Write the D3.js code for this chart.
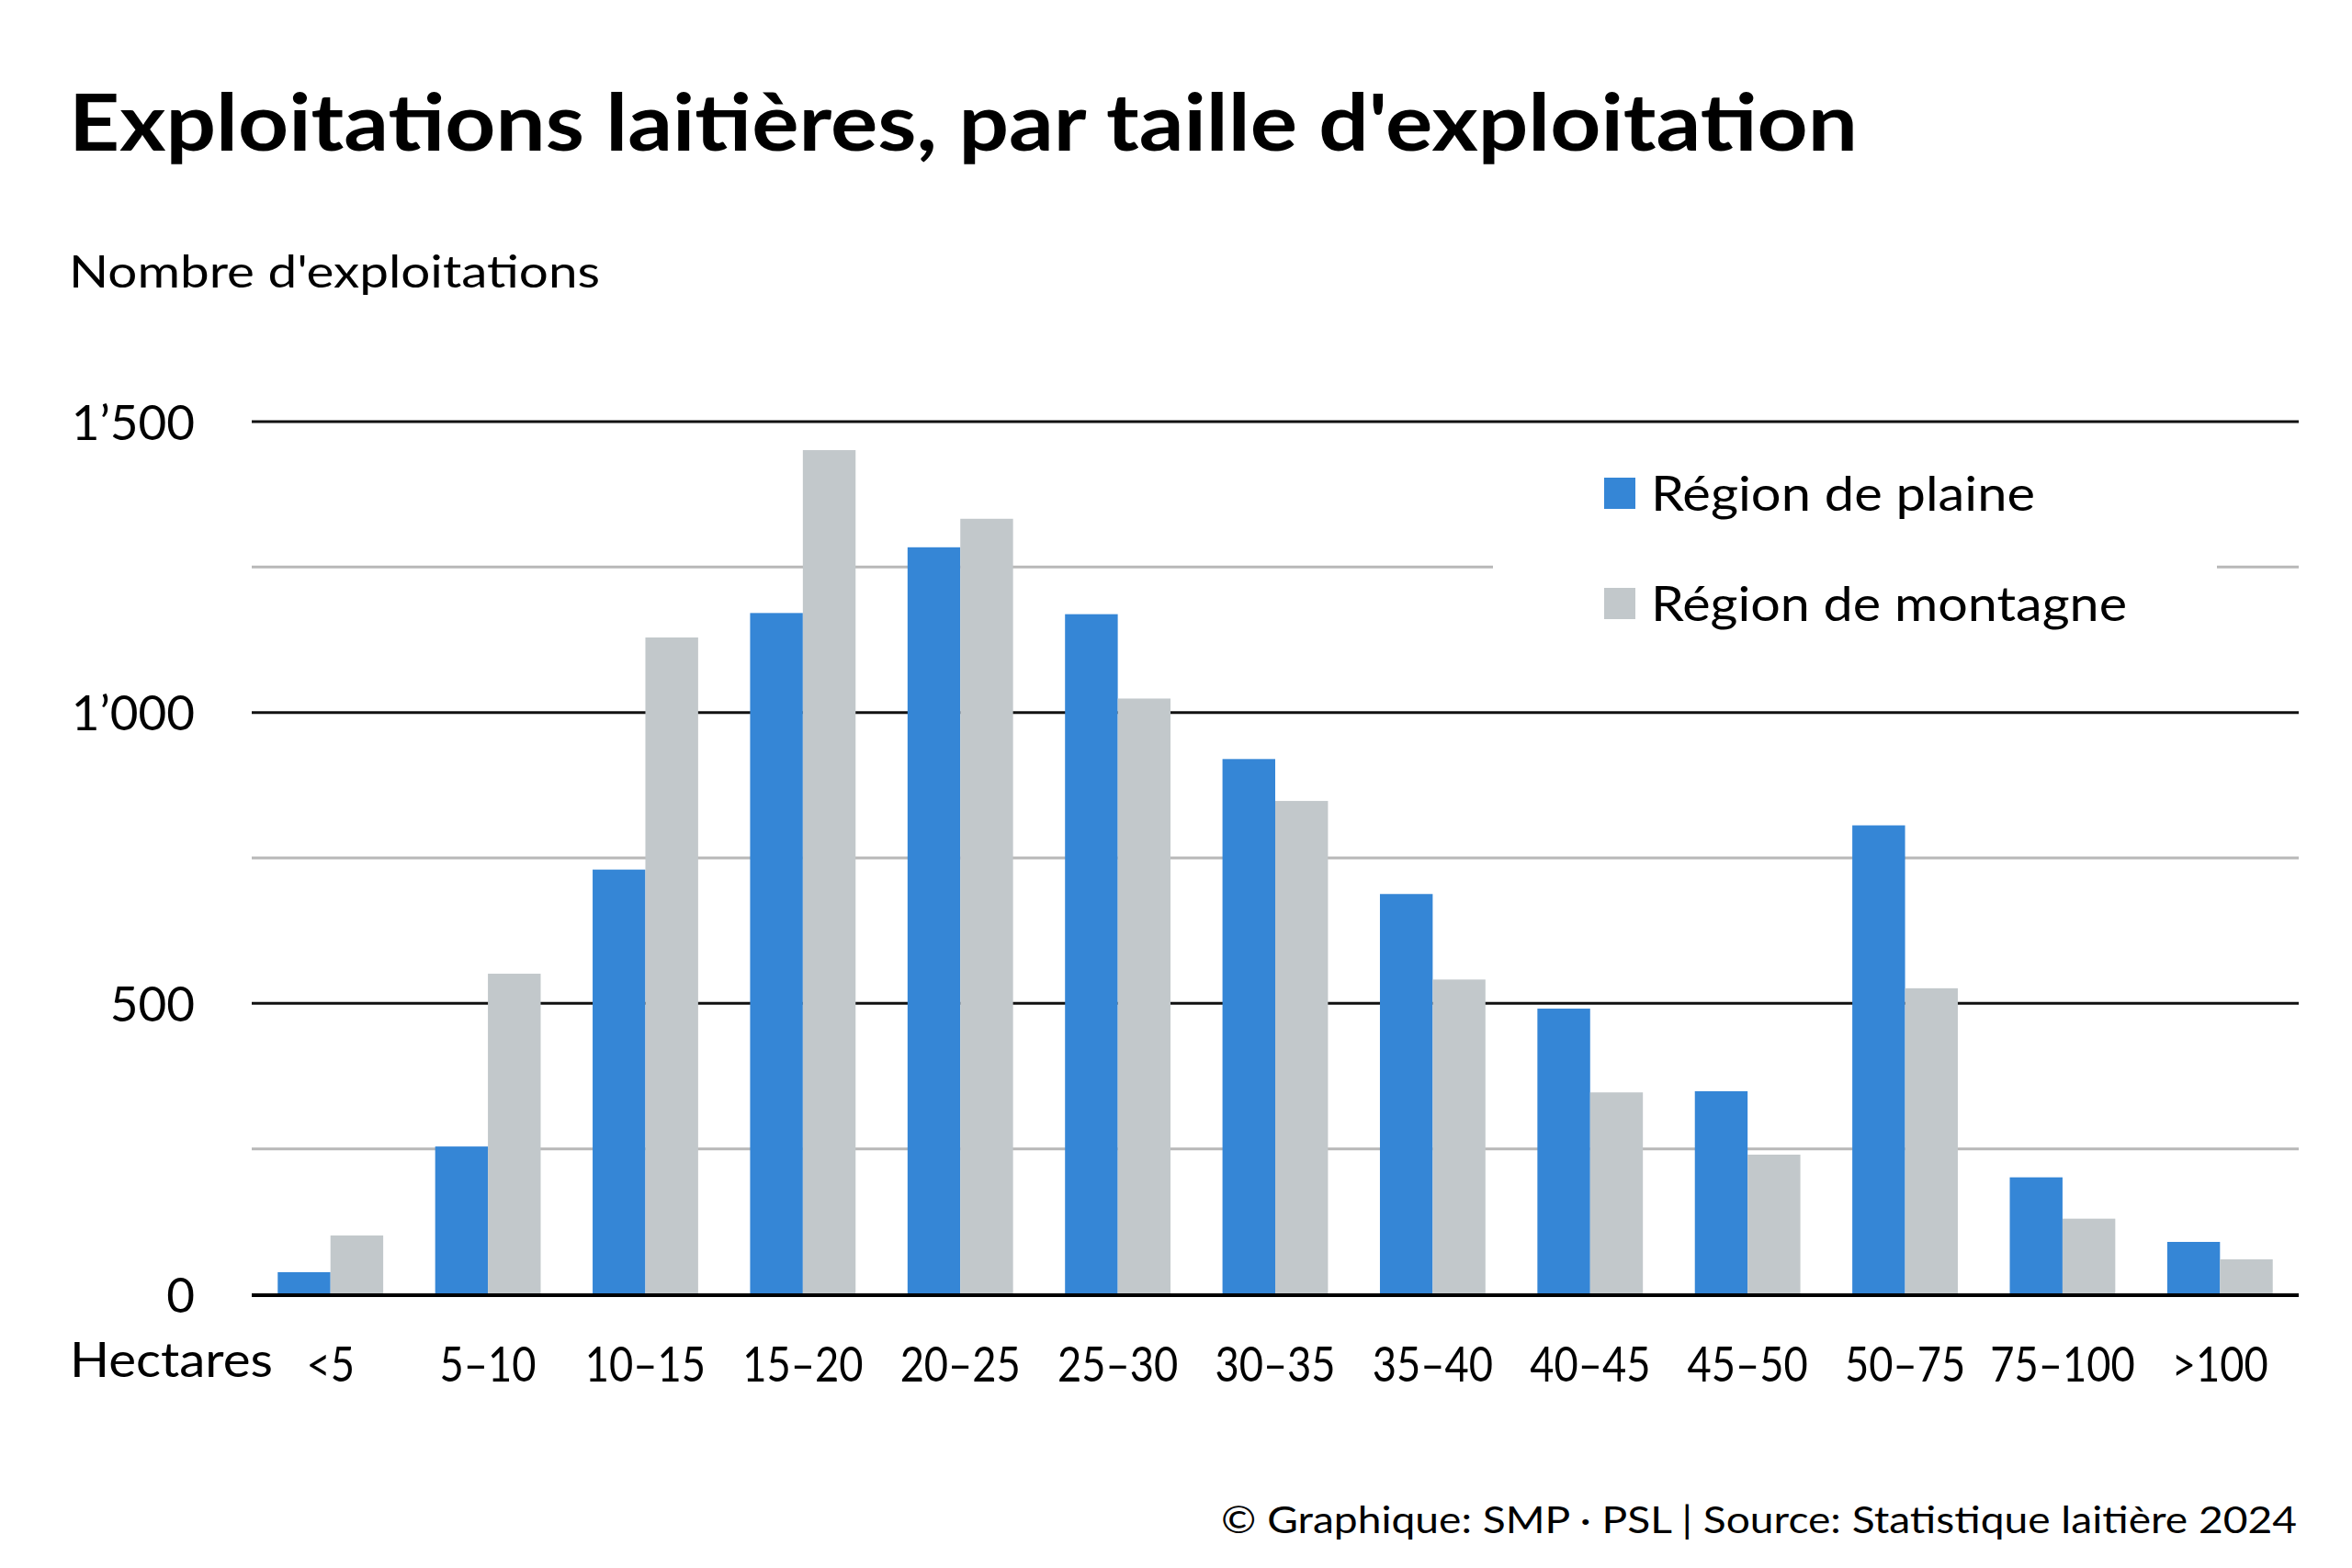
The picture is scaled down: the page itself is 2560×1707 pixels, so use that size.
<!DOCTYPE html>
<html>
<head>
<meta charset="utf-8">
<script src="https://cdn.jsdelivr.net/npm/d3@7"></script>
<style>
  body { margin: 0; background: #fff; }
  text { font-family: Lato, "Open Sans", sans-serif; fill: #000; }
</style>
</head>
<body>
<div id="chart"></div>
<script>
// Data
var categories = ["<5", "5–10", "10–15", "15–20", "20–25", "25–30", "30–35",
                  "35–40", "40–45", "45–50", "50–75", "75–100", ">100"];
var plaine   = [38, 254, 730, 1171, 1284, 1169, 920, 688, 491, 349, 806, 201, 90];
var montagne = [101, 551, 1129, 1451, 1333, 1024, 848, 541, 347, 240, 526, 130, 60];
var seriesNames = ["Région de plaine", "Région de montagne"];
var yTicks  = [0, 250, 500, 750, 1000, 1250, 1500];
var yLabels = [0, 500, 1000, 1500];

var width  = 2560;
var height = 1707;
var m = { top: 459, right: 58, bottom: 298, left: 274 };
var colors = ["#3586d6", "#c2c8cb"];

var rows = categories.map(function(c, i) {
  return { cat: c, values: [plaine[i], montagne[i]] };
});

var svg = d3.select('#chart')
            .append('svg')
            .attr('width', width)
            .attr('height', height);

// shrink or stretch a text to the width it has in the picture
function fit(sel, w) {
  sel.attr('textLength', w).attr('lengthAdjust', 'spacingAndGlyphs');
}

var x0 = d3.scaleBand()
           .domain(categories)
           .range([m.left, width - m.right])
           .paddingInner(0.33)
           .paddingOuter(0.165);

var x1 = d3.scaleBand()
           .domain([0, 1])
           .range([0, x0.bandwidth()]);

var y = d3.scaleLinear()
          .domain([0, 1500])
          .range([height - m.bottom, m.top]);

// Title and subtitle
svg.append('text')
   .attr('x', 75).attr('y', 164)
   .style('font-size', '86px')
   .style('font-weight', 700)
   .text("Exploitations laitières, par taille d'exploitation")
   .call(fit, 1947);

svg.append('text')
   .attr('x', 75).attr('y', 313)
   .style('font-size', '49px')
   .text("Nombre d'exploitations")
   .call(fit, 578);

// Gridlines (behind the bars)
svg.append('g')
   .selectAll('line')
   .data(yTicks.filter(function(d) { return d > 0; }))
   .enter()
   .append('line')
   .attr('x1', m.left).attr('x2', width - m.right)
   .attr('y1', function(d) { return y(d); })
   .attr('y2', function(d) { return y(d); })
   .style('stroke', function(d) { return d % 500 === 0 ? '#111' : '#b8b8b8'; })
   .style('stroke-width', 3);

// Legend background hides the gridline behind it
svg.append('rect')
   .attr('x', 1625).attr('y', 490)
   .attr('width', 2413 - 1625).attr('height', 250)
   .style('fill', '#fff');

// Bars
var groups = svg.append('g')
                .selectAll('g')
                .data(rows)
                .enter()
                .append('g')
                .attr('transform', function(d) { return 'translate(' + x0(d.cat) + ',0)'; });

groups.selectAll('rect')
      .data(function(d) { return d.values; })
      .enter()
      .append('rect')
      .attr('x', function(d, i) { return x1(i); })
      .attr('y', function(d) { return y(d); })
      .attr('width', x1.bandwidth())
      .attr('height', function(d) { return y(0) - y(d); })
      .style('fill', function(d, i) { return colors[i]; });

// Zero line on top
svg.append('line')
   .attr('x1', m.left).attr('x2', width - m.right)
   .attr('y1', y(0) + 1).attr('y2', y(0) + 1)
   .style('stroke', '#000')
   .style('stroke-width', 4);

// Y axis labels
var yAxis = d3.axisLeft(y)
              .tickValues(yLabels)
              .tickSize(0)
              .tickFormat(function(d) { return d3.format(',')(d).replace(',', '’'); });

var gy = svg.append('g')
            .attr('transform', 'translate(' + m.left + ',0)')
            .call(yAxis);
gy.select('.domain').remove();
gy.selectAll('text')
  .attr('x', -62)
  .attr('dy', '0.36em')
  .style('font-size', '53px')
  .style('font-family', 'Lato, sans-serif')
  .style('fill', '#000');

// X axis labels (the original face is narrower than Lato)
var xAxis = d3.axisBottom(x0).tickSize(0);
var gx = svg.append('g')
            .attr('transform', 'translate(0,' + y(0) + ')')
            .call(xAxis);
gx.select('.domain').remove();
gx.selectAll('text')
  .attr('y', 95)
  .attr('dy', null)
  .style('font-size', '52px')
  .style('font-family', 'Lato, sans-serif')
  .style('fill', '#000')
  .each(function() {
    var w = this.getComputedTextLength();
    d3.select(this).call(fit, w * 0.87);
  });

svg.append('text')
   .attr('x', 76).attr('y', 1499)
   .style('font-size', '52px')
   .text('Hectares')
   .call(fit, 221);

// Legend
var legendWidths = [418, 518];
var legend = svg.append('g')
                .selectAll('g')
                .data(seriesNames)
                .enter()
                .append('g')
                .attr('transform', function(d, i) { return 'translate(1746,' + (520 + i * 120) + ')'; });

legend.append('rect')
      .attr('width', 34).attr('height', 34)
      .style('fill', function(d, i) { return colors[i]; });

legend.append('text')
      .attr('x', 51).attr('y', 36)
      .style('font-size', '52px')
      .text(function(d) { return d; })
      .each(function(d, i) { d3.select(this).call(fit, legendWidths[i]); });

// Footer
svg.append('text')
   .attr('x', 2500).attr('y', 1669)
   .attr('text-anchor', 'end')
   .style('font-size', '41px')
   .text('© Graphique: SMP · PSL | Source: Statistique laitière 2024')
   .call(fit, 1171);
</script>
</body>
</html>
